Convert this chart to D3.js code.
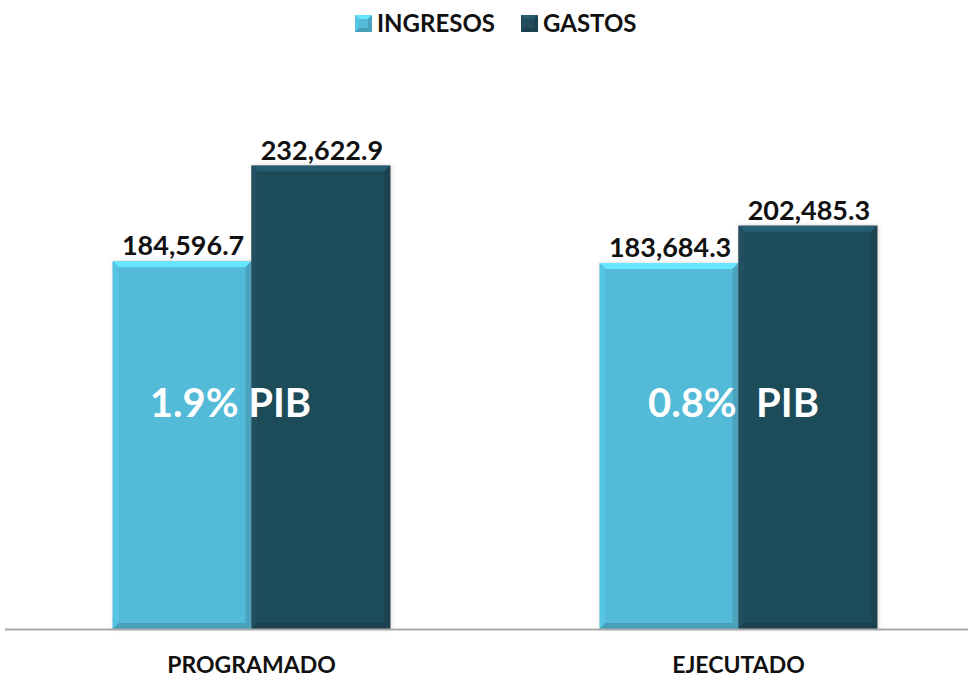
<!DOCTYPE html>
<meta charset="utf-8">
<title>Ingresos y gastos</title>
<script src="https://d3js.org/d3.v7.min.js"></script>
<style>
	body { margin: 0; background: #fff; font-family: Lato, "Open Sans", sans-serif; }
	text { font-family: Lato, "Open Sans", sans-serif; font-weight: bold; }
</style>
<div id="chart"></div>
<script>

var categories = ["PROGRAMADO", "EJECUTADO"];
var seriesNames = ["INGRESOS", "GASTOS"];
var ingresos = [184596.7, 183684.3];
var gastos = [232622.9, 202485.3];
var pibLabels = ["1.9% PIB", "0.8%\u00a0\u00a0PIB"];

var colors = {"INGRESOS": "#52bad7", "GASTOS": "#1f4b5a"};
var pibShift = {"PROGRAMADO": -21, "EJECUTADO": -5}; // text nudge inside group

var width = 968, height = 680;
var baseY = 629;

var svg = d3.select("#chart").append("svg")
	.attr("width", width)
	.attr("height", height);

var defs = svg.append("defs");
defs.append("filter")
	.attr("id", "shadow")
	.attr("x", "-10%").attr("y", "-10%").attr("width", "120%").attr("height", "120%")
	.append("feDropShadow")
	.attr("dx", 1).attr("dy", 0).attr("stdDeviation", 2)
	.attr("flood-color", "#a08080").attr("flood-opacity", 0.35);

var x0 = d3.scaleBand()
	.domain(categories)
	.range([8, 982])
	.paddingInner(0.43)
	.paddingOuter(0.215);

var x1 = d3.scaleBand()
	.domain(seriesNames)
	.range([0, x0.bandwidth()]);

var y = d3.scaleLinear()
	.domain([0, 250000])
	.range([baseY, 131]);

var rows = categories.map(function(c, i) {
	return {cat: c, values: [
		{name: "INGRESOS", value: ingresos[i]},
		{name: "GASTOS", value: gastos[i]}
	], pib: pibLabels[i]};
});

// bar with bevel edges
function bevelBar(g, x, yTop, w, h, col, b) {
	var c = d3.color(col);
	g.append("rect").attr("x", x).attr("y", yTop).attr("width", w).attr("height", h).attr("fill", col);
	var top = [[x, yTop], [x + w, yTop], [x + w - b, yTop + b], [x + b, yTop + b]];
	var bottom = [[x, yTop + h], [x + w, yTop + h], [x + w - b, yTop + h - b], [x + b, yTop + h - b]];
	var left = [[x, yTop], [x + b, yTop + b], [x + b, yTop + h - b], [x, yTop + h]];
	var right = [[x + w, yTop], [x + w - b, yTop + b], [x + w - b, yTop + h - b], [x + w, yTop + h]];
	var line = function(p) { return "M" + p.join("L") + "Z"; };
	g.append("path").attr("d", line(top)).attr("fill", c.brighter(0.6));
	g.append("path").attr("d", line(left)).attr("fill", c.brighter(0.15));
	g.append("path").attr("d", line(right)).attr("fill", c.darker(0.35));
	g.append("path").attr("d", line(bottom)).attr("fill", c.darker(0.45));
}

var groups = svg.selectAll(".group")
	.data(rows)
	.enter().append("g")
	.attr("class", "group")
	.attr("transform", function(d) { return "translate(" + x0(d.cat) + ",0)"; });

groups.each(function(d) {
	var g = d3.select(this);
	d.values.forEach(function(v) {
		var bg = g.append("g").attr("filter", "url(#shadow)");
		bevelBar(bg, x1(v.name), y(v.value), x1.bandwidth(), baseY - y(v.value), colors[v.name], 6);
		g.append("text")
			.attr("x", x1(v.name) + x1.bandwidth() / 2 + 1)
			.attr("y", y(v.value) - 6)
			.attr("text-anchor", "middle")
			.attr("font-size", 27)
			.attr("fill", "#111")
			.text(d3.format(",.1f")(v.value));
	});
	g.append("text")
		.attr("x", x0.bandwidth() / 2 + pibShift[d.cat])
		.attr("y", 417)
		.attr("text-anchor", "middle")
		.attr("font-size", 40)
		.attr("fill", "#fff")
		.text(d.pib);
});

// axis line
svg.append("line")
	.attr("x1", 5).attr("x2", width)
	.attr("y1", baseY + 0.5).attr("y2", baseY + 0.5)
	.attr("stroke", "#aaa").attr("stroke-width", 2);

// category labels
svg.selectAll(".cat")
	.data(categories)
	.enter().append("text")
	.attr("class", "cat")
	.attr("x", function(d) { return x0(d) + x0.bandwidth() / 2; })
	.attr("y", 673)
	.attr("text-anchor", "middle")
	.attr("font-size", 23)
	.attr("fill", "#111")
	.text(function(d) { return d; });

// legend
var legendX = [355, 521];
var legend = svg.selectAll(".legend")
	.data(seriesNames)
	.enter().append("g")
	.attr("class", "legend")
	.attr("transform", function(d, i) { return "translate(" + legendX[i] + ",15)"; });

legend.each(function(d) {
	bevelBar(d3.select(this), 0, 0, 17, 17, colors[d], 4);
});
legend.append("text")
	.attr("x", 22)
	.attr("y", 17)
	.attr("font-size", 24)
	.attr("fill", "#111")
	.text(function(d) { return d; });

</script>
